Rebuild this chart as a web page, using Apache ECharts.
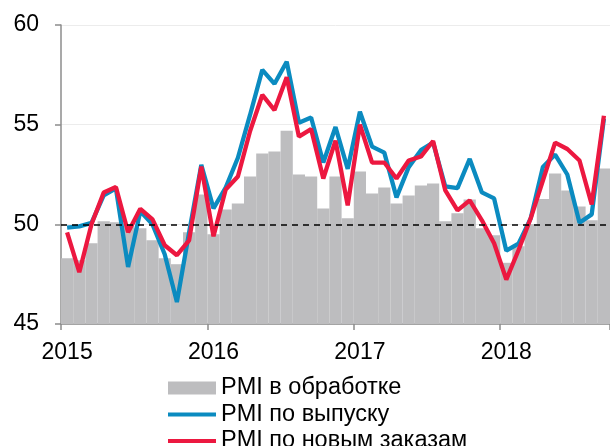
<!DOCTYPE html>
<html>
<head>
<meta charset="utf-8">
<script src="https://cdn.jsdelivr.net/npm/echarts@6/dist/echarts.min.js"></script>
<style>
  html, body { margin: 0; padding: 0; background: #fff; }
  #chart { width: 610px; height: 446px; }
</style>
</head>
<body>
<div id="chart"></div>
<script>
// месяцы: янв 2015 - сен 2018
const months = [];
for (let y = 2015; y <= 2018; y++) {
  for (let m = 1; m <= 12; m++) {
    if (y === 2018 && m > 9) break;
    months.push(y + '-' + (m < 10 ? '0' + m : m));
  }
}

// PMI в обработке (столбцы)
const pmiManufacturing = [
  48.3, 48.2, 49.05, 50.15, 50.1, 49.9, 49.8, 49.2, 48.3, 48.0, 49.6, 51.5,
  49.5, 50.75, 51.05, 52.4, 53.55, 53.65, 54.7, 52.5, 52.4, 50.8, 52.4, 50.3,
  52.65, 51.55, 51.85, 51.05, 51.45, 51.95, 52.05, 50.15, 50.55, 51.25, 49.8, 49.45,
  48.07, 48.9, 50.0, 51.27, 52.55, 51.7, 50.9, 50.2, 52.8
];

// PMI по выпуску
const pmiOutput = [
  49.83, 49.9, 50.07, 51.45, 51.8, 47.86, 50.65, 50.0, 48.5, 46.1, 49.6, 52.98,
  50.8, 51.84, 53.34, 55.5, 57.75, 57.05, 58.16, 55.1, 55.36, 53.1, 54.88, 52.78,
  55.65, 53.9, 53.6, 51.35, 52.87, 53.72, 54.1, 51.9, 51.82, 53.28, 51.6, 51.3,
  48.68, 49.03, 50.3, 52.88, 53.5, 52.5, 50.08, 50.5, 55.3
];

// PMI по новым заказам
const pmiNewOrders = [
  49.6, 47.6, 50.0, 51.6, 51.87, 49.6, 50.78, 50.25, 48.95, 48.45, 49.2, 52.9,
  49.4, 51.75, 52.4, 54.68, 56.49, 55.73, 57.38, 54.4, 54.78, 52.3, 54.2, 50.95,
  55.0, 53.1, 53.1, 52.3, 53.2, 53.4, 54.18, 51.7, 50.7, 51.2, 50.2, 49.05,
  47.23, 48.7, 50.3, 52.2, 54.1, 53.78, 53.2, 51.0, 55.45
];

const yTicks = [45, 50, 55, 60];
const threshold = 50;

const font = '"Liberation Sans", Arial, sans-serif';
const lineIcon = 'path://M0 0H48V4H0Z';
const chart = echarts.init(document.getElementById('chart'));

chart.setOption({
  animation: false,
  textStyle: { fontFamily: font },
  grid: { left: 61, right: 0, top: 25, bottom: 122 },
  legend: {
    orient: 'vertical',
    left: 163,
    top: 371,
    height: 120,
    itemWidth: 48,
    itemHeight: 13,
    itemGap: 2.5,
    symbolKeepAspect: true,
    textStyle: { fontSize: 23.5, lineHeight: 23, color: '#000', fontFamily: font },
    data: [
      { name: 'PMI в обработке', icon: 'rect' },
      { name: 'PMI по выпуску', icon: lineIcon },
      { name: 'PMI по новым заказам', icon: lineIcon }
    ]
  },
  xAxis: {
    type: 'category',
    data: months,
    boundaryGap: true,
    axisLine: { lineStyle: { color: '#8c8c8c', width: 1.5 } },
    axisTick: {
      show: true,
      length: 6,
      interval: (i) => i % 12 === 0,
      lineStyle: { color: '#8c8c8c', width: 1.5 }
    },
    axisLabel: {
      interval: (i) => i % 12 === 0,
      formatter: (v) => v.slice(0, 4),
      fontSize: 23,
      color: '#000',
      margin: 17
    }
  },
  yAxis: {
    type: 'value',
    min: yTicks[0],
    max: yTicks[yTicks.length - 1],
    interval: 5,
    axisLine: { show: true, lineStyle: { color: '#8c8c8c', width: 1.5 } },
    axisTick: { show: true, length: 6, lineStyle: { color: '#8c8c8c', width: 1.5 } },
    axisLabel: { fontSize: 23, color: '#000', margin: 22 },
    splitLine: { show: true, lineStyle: { color: '#ececec', width: 1 } }
  },
  series: [
    {
      name: 'PMI в обработке',
      type: 'bar',
      data: pmiManufacturing,
      barCategoryGap: 0,
      itemStyle: { color: '#bdbdbf' },
      markLine: {
        silent: true,
        symbol: 'none',
        label: { show: false },
        lineStyle: { color: '#000', type: [6, 5], width: 1.5 },
        data: [{ yAxis: threshold }]
      },
      z: 1
    },
    {
      name: 'PMI по выпуску',
      type: 'line',
      data: pmiOutput,
      symbol: 'none',
      lineStyle: { color: '#0b8bc0', width: 4.3 },
      itemStyle: { color: '#0b8bc0' },
      z: 3
    },
    {
      name: 'PMI по новым заказам',
      type: 'line',
      data: pmiNewOrders,
      symbol: 'none',
      lineStyle: { color: '#ec1840', width: 4.3 },
      itemStyle: { color: '#ec1840' },
      z: 4
    }
  ]
});
</script>
</body>
</html>
